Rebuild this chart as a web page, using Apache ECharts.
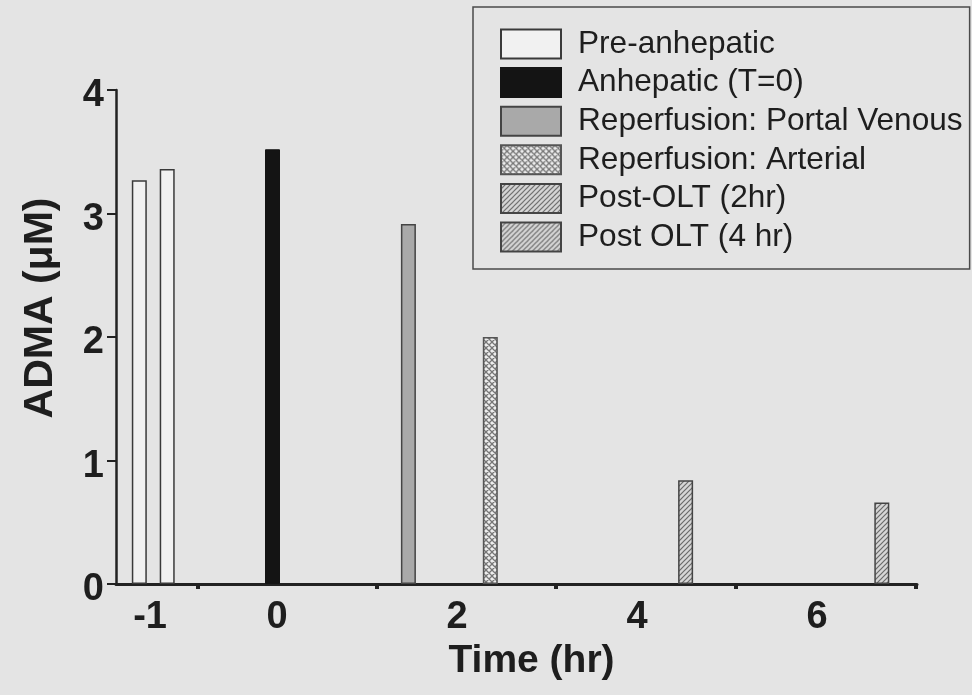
<!DOCTYPE html>
<html>
<head>
<meta charset="utf-8">
<script src="https://cdn.jsdelivr.net/npm/echarts@6/dist/echarts.min.js"></script>
<style>
html,body{margin:0;padding:0;background:#e4e4e4;}
#chart{width:972px;height:695px;}
</style>
</head>
<body>
<div id="chart"></div>
<script>
// ---- data ----
const seriesNames = ['Pre-anhepatic', 'Anhepatic (T=0)', 'Reperfusion: Portal Venous', 'Reperfusion: Arterial', 'Post-OLT (2hr)', 'Post OLT (4 hr)'];
const preX = [-1.53, -1.22];
const preY = [3.27, 3.36];
const anhepX = [-0.05];
const anhepY = [3.52];
const portalX = [1.46];
const portalY = [2.915];
const arterialX = [2.37];
const arterialY = [2.0];
const post2X = [4.54];
const post2Y = [0.84];
const post4X = [6.72];
const post4Y = [0.66];
const xTickLabels = ['-1', '0', '2', '4', '6'];
const xTickLabelValues = [-1.41, 0, 2, 4, 6];
const xMinorTicks = [-0.88, 1.11, 3.1, 5.1, 7.1];
const yTicks = [0, 1, 2, 3, 4];

function pairs(xs, ys) { return xs.map((x, i) => [x, ys[i]]); }

function pattern(bg, fg, cross, size, lw) {
  const c = document.createElement('canvas');
  c.width = size; c.height = size;
  const g = c.getContext('2d');
  g.fillStyle = bg; g.fillRect(0, 0, size, size);
  g.strokeStyle = fg; g.lineWidth = lw;
  g.beginPath();
  g.moveTo(-1, size + 1); g.lineTo(size + 1, -1);
  g.moveTo(-1, 1); g.lineTo(1, -1);
  g.moveTo(size - 1, size + 1); g.lineTo(size + 1, size - 1);
  if (cross) {
    g.moveTo(-1, -1); g.lineTo(size + 1, size + 1);
    g.moveTo(size - 1, -1); g.lineTo(size + 1, 1);
    g.moveTo(-1, size - 1); g.lineTo(1, size + 1);
  }
  g.stroke();
  return { image: c, repeat: 'repeat' };
}

const FONT = '"Liberation Sans", Arial, Helvetica, sans-serif';
const INK = '#1e1e1e';

const hatchFill = pattern('#d6d6d6', '#6a6a6a', false, 5, 1.2);
const crossFill = pattern('#ededed', '#777777', true, 6, 1.3);

const styles = [
  { color: '#f1f1f1', borderColor: '#3a3a3a', borderWidth: 1.5 },
  { color: '#141414', borderColor: '#141414', borderWidth: 1 },
  { color: '#a9a9a9', borderColor: '#444444', borderWidth: 1.5 },
  { color: crossFill, borderColor: '#555555', borderWidth: 1.5 },
  { color: hatchFill, borderColor: '#444444', borderWidth: 1.5 },
  { color: hatchFill, borderColor: '#444444', borderWidth: 1.5 }
];
const datasets = [
  pairs(preX, preY), pairs(anhepX, anhepY), pairs(portalX, portalY),
  pairs(arterialX, arterialY), pairs(post2X, post2Y), pairs(post4X, post4Y)
];

const chart = echarts.init(document.getElementById('chart'), null, { renderer: 'canvas' });
chart.setOption({
  backgroundColor: '#e4e4e4',
  animation: false,
  grid: { left: 116, right: 55, top: 90, bottom: 111 },
  legend: {
    orient: 'vertical',
    left: 473, top: 7,
    padding: [21, 7, 16, 27],
    borderColor: '#4a4a4a', borderWidth: 1.5,
    backgroundColor: '#e4e4e4',
    itemWidth: 60, itemHeight: 29, itemGap: 6.6,
    icon: 'rect',
    textStyle: { fontFamily: FONT, fontSize: 31.6, color: INK, lineHeight: 31, padding: [0, 0, 0, 12] },
    data: seriesNames
  },
  xAxis: {
    type: 'value',
    min: -1.789, max: 7.111,
    name: 'Time (hr)',
    nameLocation: 'middle',
    nameGap: 58,
    nameTextStyle: { fontFamily: FONT, fontSize: 39, fontWeight: 'bold', color: INK, padding: [0, 0, 0, 30] },
    axisLine: { show: true, onZero: false, lineStyle: { color: '#222', width: 3 } },
    axisTick: { show: true, customValues: xMinorTicks, length: 5, lineStyle: { color: '#222', width: 4 } },
    axisLabel: {
      show: true, customValues: xTickLabelValues, margin: 15,
      fontFamily: FONT, fontSize: 38, fontWeight: 'bold', color: INK,
      formatter: function (v) {
        let best = 0;
        for (let i = 0; i < xTickLabelValues.length; i++) {
          if (Math.abs(xTickLabelValues[i] - v) < Math.abs(xTickLabelValues[best] - v)) best = i;
        }
        return xTickLabels[best];
      }
    },
    splitLine: { show: false }
  },
  yAxis: {
    type: 'value',
    min: 0, max: 4, interval: 1,
    name: 'ADMA (\u03bcM)',
    nameLocation: 'middle',
    nameRotate: 90,
    nameGap: 55,
    nameTextStyle: { fontFamily: FONT, fontSize: 41, fontWeight: 'bold', color: INK, padding: [0, 0, 0, 58] },
    axisLine: { show: true, onZero: false, lineStyle: { color: '#222', width: 2.5 } },
    axisTick: { show: true, length: 9, lineStyle: { color: '#222', width: 2 } },
    axisLabel: {
      margin: 12, fontFamily: FONT, fontSize: 38, fontWeight: 'bold', color: INK,
      verticalAlign: 'top', lineHeight: 12,
      formatter: function (v) { return yTicks.indexOf(v) >= 0 ? String(v) : ''; }
    },
    splitLine: { show: false }
  },
  series: seriesNames.map((name, i) => ({
    name: name,
    type: 'bar',
    barWidth: 15,
    barGap: '-100%',
    itemStyle: styles[i],
    data: datasets[i]
  }))
});
</script>
</body>
</html>
